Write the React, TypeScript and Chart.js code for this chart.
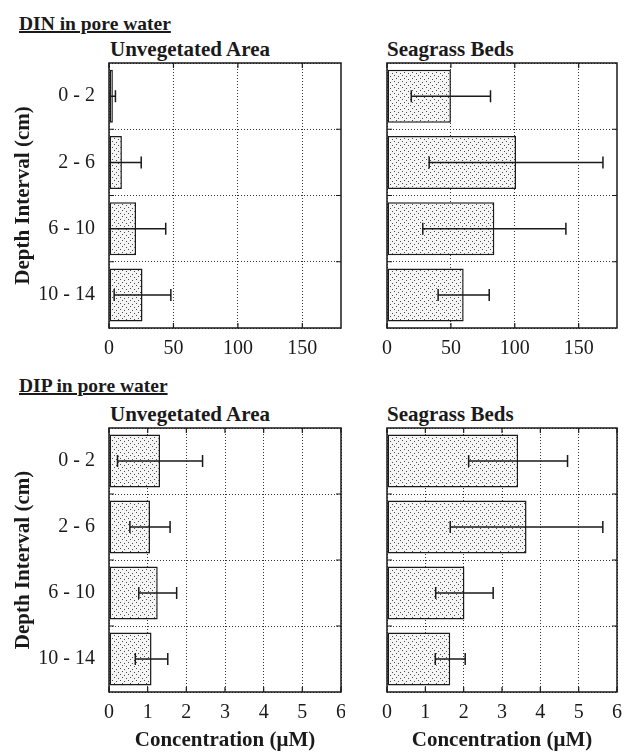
import React, { useEffect, useRef } from "react";
import { Chart, registerables } from "chart.js";

Chart.register(...registerables);

// ---- data ----
const depthCategories = ["0 - 2", "2 - 6", "6 - 10", "10 - 14"];

const dinUnvegetated = [3, 10, 21, 26];
const dinUnvegetatedErr = [2, 15, 23, 22];
const dinSeagrass = [50, 101, 84, 60];
const dinSeagrassErr = [31, 68, 56, 20];

const dipUnvegetated = [1.32, 1.06, 1.26, 1.1];
const dipUnvegetatedErr = [1.1, 0.52, 0.49, 0.42];
const dipSeagrass = [3.42, 3.64, 2.02, 1.65];
const dipSeagrassErr = [1.29, 1.99, 0.75, 0.39];

const dinAxisMax = 180;
const dinAxisStep = 50;
const dipAxisMax = 6;
const dipAxisStep = 1;

const sectionTitles = ["DIN in pore water", "DIP in pore water"];
const panelTitles = ["Unvegetated Area", "Seagrass Beds"];
const yAxisTitle = "Depth Interval (cm)";
const xAxisTitle = "Concentration (\u03BCM)";

const SERIF = "'Liberation Serif', 'Times New Roman', serif";
const INK = "#1a1a1a";

const errorBarPlugin = {
  id: "errorBars",
  afterDatasetsDraw(chart: any, _args: any, opts: any) {
    const errs: number[] = opts.errors || [];
    const meta = chart.getDatasetMeta(0);
    const xs = chart.scales.x;
    const area = chart.chartArea;
    const ctx = chart.ctx;
    const vals = chart.data.datasets[0].data as number[];
    ctx.save();
    ctx.beginPath();
    ctx.rect(area.left, area.top, area.right - area.left, area.bottom - area.top);
    ctx.clip();
    ctx.strokeStyle = INK;
    ctx.lineWidth = 1.5;
    meta.data.forEach((bar: any, i: number) => {
      const v = vals[i];
      const e = errs[i] || 0;
      const x0 = xs.getPixelForValue(v - e);
      const x1 = xs.getPixelForValue(v + e);
      const y = bar.y;
      const cap = 6;
      ctx.beginPath();
      ctx.moveTo(x0, y);
      ctx.lineTo(x1, y);
      ctx.moveTo(x0, y - cap);
      ctx.lineTo(x0, y + cap);
      ctx.moveTo(x1, y - cap);
      ctx.lineTo(x1, y + cap);
      ctx.stroke();
    });
    ctx.restore();
  },
};

const framePlugin = {
  id: "frame",
  afterDraw(chart: any) {
    const { ctx, chartArea: a } = chart;
    const xs = chart.scales.x;
    const ys = chart.scales.y;
    ctx.save();
    ctx.strokeStyle = INK;
    ctx.lineWidth = 1.5;
    ctx.strokeRect(a.left, a.top, a.right - a.left, a.bottom - a.top);
    ctx.lineWidth = 1.2;
    ctx.beginPath();
    xs.ticks.forEach((_t: any, i: number) => {
      const px = xs.getPixelForTick(i);
      ctx.moveTo(px, a.bottom);
      ctx.lineTo(px, a.bottom - 5);
      ctx.moveTo(px, a.top);
      ctx.lineTo(px, a.top + 5);
    });
    const n = ys.ticks.length;
    for (let i = 1; i < n; i++) {
      const py = (ys.getPixelForTick(i - 1) + ys.getPixelForTick(i)) / 2;
      ctx.moveTo(a.left, py);
      ctx.lineTo(a.left + 5, py);
      ctx.moveTo(a.right, py);
      ctx.lineTo(a.right - 5, py);
    }
    ctx.stroke();
    ctx.restore();
  },
};

function makePattern(ctx: CanvasRenderingContext2D) {
  const tile = document.createElement("canvas");
  tile.width = 8;
  tile.height = 6;
  const t = tile.getContext("2d")!;
  t.fillStyle = "#f5f5f5";
  t.fillRect(0, 0, 8, 6);
  t.fillStyle = "#4a4a4a";
  t.fillRect(0, 0, 1, 1);
  t.fillRect(4, 1, 1, 1);
  t.fillRect(2, 3, 1, 1);
  t.fillRect(6, 4, 1, 1);
  return ctx.createPattern(tile, "repeat");
}

type PanelProps = {
  values: number[];
  errors: number[];
  max: number;
  step: number;
  left: number;
  top: number;
  width: number;
  height: number;
  yWidth: number;
  xHeight: number;
  padTop: number;
  padRight: number;
  showY: boolean;
  showXTitle: boolean;
};

function Panel(p: PanelProps) {
  const ref = useRef<HTMLCanvasElement>(null);
  useEffect(() => {
    const canvas = ref.current!;
    const ctx = canvas.getContext("2d")!;
    const pattern = makePattern(ctx);
    const chart = new Chart(canvas, {
      type: "bar",
      data: {
        labels: depthCategories,
        datasets: [
          {
            data: p.values,
            backgroundColor: pattern as any,
            borderColor: INK,
            borderWidth: 1.5,
            borderSkipped: false,
            barPercentage: 0.8,
            categoryPercentage: 1,
          },
        ],
      },
      options: {
        indexAxis: "y",
        responsive: false,
        animation: false,
        devicePixelRatio: 1,
        layout: { padding: { top: p.padTop, right: p.padRight, left: 0, bottom: 0 } },
        plugins: {
          legend: { display: false },
          tooltip: { enabled: false },
          errorBars: { errors: p.errors },
        } as any,
        scales: {
          x: {
            type: "linear",
            min: 0,
            max: p.max,
            ticks: {
              stepSize: p.step,
              includeBounds: false,
              font: { family: SERIF, size: 20 },
              color: INK,
              padding: 9,
              maxRotation: 0,
            },
            grid: { color: "#333", lineWidth: 1, drawTicks: false },
            border: { display: false, dash: [1, 2] },
            title: {
              display: p.showXTitle,
              text: xAxisTitle,
              font: { family: SERIF, size: 21, weight: "bold" },
              color: INK,
              padding: { top: 0, bottom: 1 },
            },
            afterFit: (s: any) => {
              s.height = p.xHeight;
              s.paddingLeft = 0;
              s.paddingRight = 0;
            },
          },
          y: {
            type: "category",
            grid: { color: "#333", lineWidth: 1, drawTicks: false, offset: true },
            border: { display: false, dash: [1, 2] },
            ticks: {
              display: p.showY,
              font: { family: SERIF, size: 20 },
              color: INK,
              padding: 14,
            },
            title: {
              display: p.showY,
              text: yAxisTitle,
              font: { family: SERIF, size: 21, weight: "bold" },
              color: INK,
              padding: { top: 11, bottom: 0 },
            },
            afterFit: (s: any) => {
              s.width = p.yWidth;
              s.paddingTop = 0;
              s.paddingBottom = 0;
            },
          },
        } as any,
      },
      plugins: [errorBarPlugin, framePlugin],
    });
    return () => chart.destroy();
  }, []);
  return (
    <canvas
      ref={ref}
      width={p.width}
      height={p.height}
      style={{ position: "absolute", left: p.left, top: p.top, width: p.width, height: p.height }}
    />
  );
}

function Heading(props: { text: string; left: number; baseline: number; size: number; underline?: boolean }) {
  const top = props.baseline - props.size * 0.838;
  return (
    <div
      style={{
        position: "absolute",
        left: props.left,
        top,
        fontFamily: SERIF,
        fontWeight: "bold",
        fontSize: props.size,
        lineHeight: 1,
        whiteSpace: "nowrap",
        color: INK,
        textDecoration: props.underline ? "underline" : "none",
        textDecorationThickness: props.underline ? "1.5px" : undefined,
      }}
    >
      {props.text}
    </div>
  );
}

export default function App() {
  return (
    <div
      style={{
        position: "absolute",
        left: 0,
        top: 0,
        width: 626,
        height: 754,
        background: "#fff",
        overflow: "hidden",
      }}
    >
      <Heading text={sectionTitles[0]} left={19} baseline={30} size={19.5} underline />
      <Heading text={panelTitles[0]} left={110} baseline={57} size={21} />
      <Heading text={panelTitles[1]} left={387} baseline={57} size={21} />
      <Heading text={sectionTitles[1]} left={19} baseline={392} size={19.5} underline />
      <Heading text={panelTitles[0]} left={110} baseline={422} size={21} />
      <Heading text={panelTitles[1]} left={387} baseline={422} size={21} />

      <Panel values={dinUnvegetated} errors={dinUnvegetatedErr} max={dinAxisMax} step={dinAxisStep}
        left={0} top={51} width={345} height={317} yWidth={109} xHeight={40} padTop={12} padRight={4}
        showY={true} showXTitle={false} />
      <Panel values={dinSeagrass} errors={dinSeagrassErr} max={dinAxisMax} step={dinAxisStep}
        left={378} top={51} width={248} height={317} yWidth={9} xHeight={40} padTop={12} padRight={9}
        showY={false} showXTitle={false} />
      <Panel values={dipUnvegetated} errors={dipUnvegetatedErr} max={dipAxisMax} step={dipAxisStep}
        left={0} top={416} width={345} height={338} yWidth={109} xHeight={62} padTop={12} padRight={4}
        showY={true} showXTitle={true} />
      <Panel values={dipSeagrass} errors={dipSeagrassErr} max={dipAxisMax} step={dipAxisStep}
        left={378} top={416} width={248} height={338} yWidth={9} xHeight={62} padTop={12} padRight={9}
        showY={false} showXTitle={true} />
    </div>
  );
}
